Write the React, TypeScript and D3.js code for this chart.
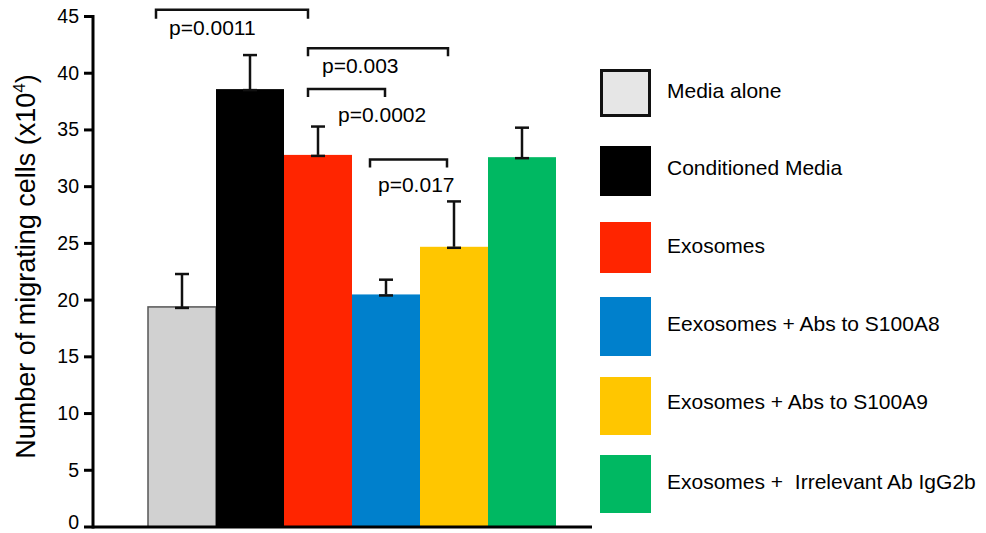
import React from "react";
import * as d3 from "d3";

const categories = [
  "Media alone",
  "Conditioned Media",
  "Exosomes",
  "Eexosomes + Abs to S100A8",
  "Exosomes + Abs to S100A9",
  "Exosomes +  Irrelevant Ab IgG2b",
];
const means = [19.4, 38.6, 32.8, 20.5, 24.7, 32.6];
const errors = [2.9, 3.0, 2.5, 1.3, 4.0, 2.6];
const barColors = ["#d1d1d1", "#000000", "#ff2500", "#0080cc", "#ffc600", "#00b862"];
const legendColors = ["#e6e6e6", "#000000", "#ff2500", "#0080cc", "#ffc600", "#00b862"];
const yTicks = [0, 5, 10, 15, 20, 25, 30, 35, 40, 45];

// significance brackets: bracket level (y value) and label
const bracketLevel = [45.6, 42.2, 38.6, 32.4];
const bracketLabels = ["p=0.0011", "p=0.003", "p=0.0002", "p=0.017"];

const W = 986;
const H = 533;
const FONT = "Liberation Sans, Arial, sans-serif";

export default function App() {
  const y = d3.scaleLinear().domain([0, 45]).range([527, 16.5]);
  const x = d3.scaleBand<number>().domain(d3.range(categories.length)).range([148, 556]).padding(0);
  const bw = x.bandwidth();
  const cx = (i: number) => (x(i) as number) + bw / 2;
  const capW = 14;

  const brX1 = [156, 308, 308, 370];
  const brX2 = [308, 448, 385, 447];
  const brLeg = [9, 8, 8, 8];
  const labelX = [169, 322, 338, 378];
  const labelOffset = [25.5, 25, 33, 33];

  const legTop = [69, 146, 222, 297, 377, 455];
  const legH = [48, 50, 51, 59, 58, 58];
  const legBase = [98, 175, 253, 331, 409, 489];

  return (
    <svg
      width={W}
      height={H}
      style={{ position: "absolute", left: 0, top: 0, display: "block" }}
      fontFamily={FONT}
    >
      <rect width={W} height={H} fill="#fff" />
      {/* bars */}
      {means.map((m, i) => (
        <rect
          key={i}
          x={x(i) as number}
          y={y(m)}
          width={bw}
          height={y(0) - y(m)}
          fill={barColors[i]}
          stroke={i === 0 ? "#555" : "none"}
          strokeWidth={i === 0 ? 1.5 : 0}
        />
      ))}
      {/* error bars */}
      {means.map((m, i) => (
        <g key={i} stroke="#111" strokeWidth={2.5}>
          <line x1={cx(i)} x2={cx(i)} y1={y(m)} y2={y(m + errors[i])} />
          <line x1={cx(i) - capW / 2} x2={cx(i) + capW / 2} y1={y(m + errors[i])} y2={y(m + errors[i])} />
          <line x1={cx(i) - capW / 2} x2={cx(i) + capW / 2} y1={y(m) + 1} y2={y(m) + 1} />
        </g>
      ))}
      {/* axes */}
      <line x1={93} x2={93} y1={y(45) - 1.5} y2={y(0) + 1.5} stroke="#000" strokeWidth={3} />
      <line x1={93} x2={592} y1={y(0)} y2={y(0)} stroke="#000" strokeWidth={3} />
      {yTicks.map((t) => (
        <g key={t}>
          <line x1={84} x2={93} y1={y(t)} y2={y(t)} stroke="#000" strokeWidth={3} />
          <text x={79} y={y(t)} dy={t === 0 ? "0.1em" : "0.33em"} textAnchor="end" fontSize={19.5} fill="#000">
            {t}
          </text>
        </g>
      ))}
      <text transform={`translate(35, 266.5) rotate(-90)`} textAnchor="middle" fontSize={27} fill="#000">
        Number of migrating cells (x10
        <tspan fontSize={17} dy={-10}>4</tspan>
        <tspan dy={10}>)</tspan>
      </text>
      {/* brackets */}
      {bracketLabels.map((lab, k) => {
        const top = y(bracketLevel[k]);
        const x1 = brX1[k];
        const x2 = brX2[k];
        return (
          <g key={k}>
            <path
              d={`M${x1},${top + brLeg[k]}L${x1},${top}L${x2},${top}L${x2},${top + brLeg[k]}`}
              fill="none"
              stroke="#111"
              strokeWidth={2.5}
            />
            <text x={labelX[k]} y={top + labelOffset[k]} fontSize={21} fill="#000">
              {lab}
            </text>
          </g>
        );
      })}
      {/* legend */}
      {categories.map((c, i) => (
        <g key={i}>
          <rect
            x={i === 0 ? 601.5 : 600}
            y={legTop[i] + (i === 0 ? 1.5 : 0)}
            width={i === 0 ? 48 : 51}
            height={i === 0 ? legH[i] - 3 : legH[i]}
            fill={legendColors[i]}
            stroke={i === 0 ? "#111" : "none"}
            strokeWidth={i === 0 ? 3 : 0}
          />
          <text x={667} y={legBase[i]} fontSize={21} fill="#000" style={{ whiteSpace: "pre" }}>
            {c}
          </text>
        </g>
      ))}
    </svg>
  );
}
